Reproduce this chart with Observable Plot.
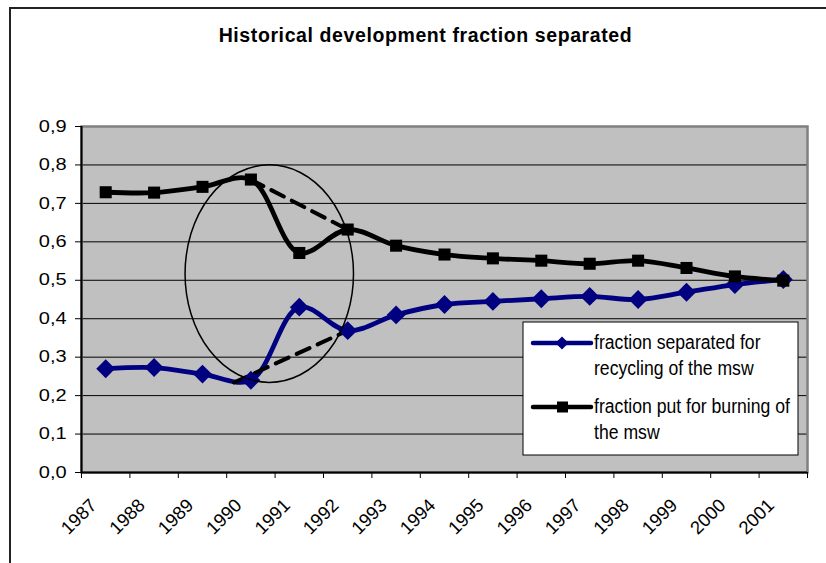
<!DOCTYPE html>
<html><head><meta charset="utf-8">
<script src="https://cdn.jsdelivr.net/npm/d3@7"></script>
<script src="https://cdn.jsdelivr.net/npm/@observablehq/plot@0.6"></script>
<style>
body{margin:0;background:#fff;}
#wrap{position:relative;width:826px;height:563px;overflow:hidden;font-family:"Liberation Sans",Arial,sans-serif;}
#border{position:absolute;left:9px;top:7px;width:900px;height:700px;border-left:2px solid #222;border-top:2px solid #222;}
#title{position:absolute;left:0;width:851px;top:24px;text-align:center;font-weight:bold;font-size:19.5px;letter-spacing:0.6px;line-height:normal;color:#000;}
#chart{position:absolute;left:0;top:0;}
</style></head>
<body><div id="wrap"><div id="border"></div><div id="title">Historical development fraction separated</div><div id="chart"></div></div>
<script>
const years = [1987,1988,1989,1990,1991,1992,1993,1994,1995,1996,1997,1998,1999,2000,2001];
const recycling = [0.27,0.273,0.256,0.24,0.43,0.369,0.41,0.437,0.445,0.452,0.458,0.45,0.469,0.489,0.502];
const burning = [0.729,0.728,0.743,0.762,0.571,0.632,0.59,0.567,0.557,0.551,0.543,0.551,0.532,0.51,0.499];
const yTicks = [0,0.1,0.2,0.3,0.4,0.5,0.6,0.7,0.8,0.9];
const seriesNames = [["fraction separated for","recycling of the msw"],["fraction put for burning of","the msw"]];
const seriesColors = ["#000080","#000000"];
// hand-drawn annotation guides (data units)
const guideBurning = {x:[1990,1992], y:[0.762,0.632]};
const guideRecycling = {x:[1989.65,1992], y:[0.234,0.369]};
const highlight = {cx:1990.39, cy:0.516, rx:1.74, ry:0.283};

const recRows = years.map((y,i)=>({year:y, value:recycling[i]}));
const burnRows = years.map((y,i)=>({year:y, value:burning[i]}));
const xDomain = [years[0]-0.5, years[years.length-1]+0.5];
const boundaries = d3.range(years.length+1).map(i => xDomain[0]+i);
const toRows = g => g.x.map((x,i)=>({x, y:g.y[i]}));
const tickSize = 6, tickPad = 9;

const plot = Plot.plot({
  width: 826, height: 563,
  marginTop: 126, marginLeft: 81, marginRight: 19, marginBottom: 91,
  style: {fontFamily: "'Liberation Sans', Arial, sans-serif", fontSize: "17px", background: "transparent", color:"#000"},
  x: {domain: xDomain},
  y: {domain: [0, 0.9]},
  marks: [
    Plot.frame({fill: "#c0c0c0"}),
    Plot.gridY(yTicks.slice(1,-1), {stroke: "#000", strokeOpacity: 1, strokeWidth: 1}),
    Plot.frame({stroke: "#808080", strokeWidth: 2.5}),
    Plot.axisY(yTicks, {tickSize, tickPadding: tickPad, tickFormat: d => d.toFixed(1).replace(".", ","), stroke:"#000", label: null, fontSize: 16}),
    Plot.axisX(boundaries, {tickSize, tickFormat: () => "", label: null, stroke:"#000"}),
    Plot.ruleX([xDomain[0]], {stroke:"#000", strokeWidth: 2}),
    Plot.ruleY([0], {stroke:"#000", strokeWidth: 2}),
    Plot.text(years, {x: d=>d, frameAnchor:"bottom", text: d=>String(d), rotate: -45, textAnchor:"end", lineAnchor:"bottom", dx: -8, dy: 34, fontSize: 18.5, fill:"#000"}),
    Plot.line(recRows, {x:"year", y:"value", stroke: seriesColors[0], strokeWidth: 4.8, curve:"catmull-rom"}),
    Plot.line(toRows(guideRecycling), {x:"x", y:"y", stroke:"#000", strokeWidth: 4, strokeDasharray:"14,9"}),
    Plot.dot(recRows, {x:"year", y:"value", symbol:"diamond2", r: 8.5, fill: seriesColors[0], stroke:"none"}),
    Plot.line(burnRows, {x:"year", y:"value", stroke: seriesColors[1], strokeWidth: 4.8, curve:"catmull-rom"}),
    Plot.line(toRows(guideBurning), {x:"x", y:"y", stroke:"#000", strokeWidth: 4, strokeDasharray:"14,9"}),
    Plot.dot(burnRows, {x:"year", y:"value", symbol:"square", r: 6.8, fill: seriesColors[1], stroke:"none"})
  ]
});
document.getElementById("chart").appendChild(plot);

const svg = d3.select(plot);
const sx = plot.scale("x"), sy = plot.scale("y");
const frameLeft = sx.apply(xDomain[0]);

// widen the y tick labels horizontally around their right anchor (reference glyphs are stretched)
const yLab = plot.querySelector('[aria-label="y-axis tick label"]');
if (yLab) {
  const ax = frameLeft - tickSize - tickPad;
  const wrapG = document.createElementNS("http://www.w3.org/2000/svg", "g");
  wrapG.setAttribute("transform", `translate(${ax},0) scale(1.25,1) translate(${-ax},0)`);
  yLab.parentNode.insertBefore(wrapG, yLab);
  wrapG.appendChild(yLab);
}

const ecx = sx.apply(highlight.cx), ecy = sy.apply(highlight.cy);
svg.append("ellipse")
  .attr("cx", ecx).attr("cy", ecy)
  .attr("rx", sx.apply(highlight.cx + highlight.rx) - ecx)
  .attr("ry", sy.apply(highlight.cy - highlight.ry) - ecy)
  .attr("fill","none").attr("stroke","#000").attr("stroke-width",1.5);

// legend
const frameRight = sx.apply(xDomain[1]);
const lg = svg.append("g")
  .attr("font-family","'Liberation Sans Narrow','Arial Narrow','Liberation Sans',sans-serif")
  .attr("font-size", 21).attr("text-anchor","start");
const bx = frameRight - 284, by = 322, bw = 275, bh = 133;
lg.append("rect").attr("x",bx).attr("y",by).attr("width",bw).attr("height",bh).attr("fill","#fff").attr("stroke","#000").attr("stroke-width",1);
seriesNames.forEach((lines, i) => {
  const cy = by + 21 + i*64;
  lg.append("line").attr("x1",bx+10).attr("x2",bx+68).attr("y1",cy).attr("y2",cy).attr("stroke",seriesColors[i]).attr("stroke-width",4.5).attr("stroke-linecap","round");
  if (i === 0) {
    lg.append("path").attr("d", d3.symbol(d3.symbolDiamond2, 110)()).attr("transform",`translate(${bx+39},${cy})`).attr("fill",seriesColors[i]);
  } else {
    lg.append("rect").attr("x",bx+34).attr("y",cy-5.5).attr("width",11).attr("height",11).attr("fill",seriesColors[i]);
  }
  lines.forEach((t, j) => {
    lg.append("text").attr("transform", `translate(${bx+71},${cy + 6 + j*26}) scale(0.84,1)`).attr("fill","#000").text(t);
  });
});
</script>
</body></html>
